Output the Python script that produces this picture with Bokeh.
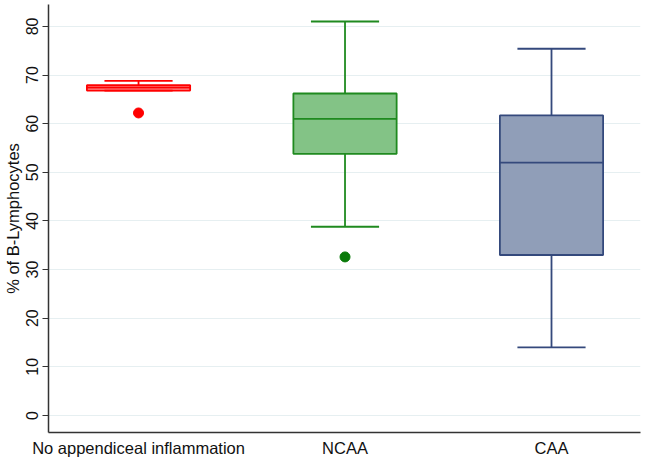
from bokeh.plotting import figure
from bokeh.models import Range1d, FixedTicker, ColumnDataSource
from bokeh.embed import file_html
from bokeh.resources import INLINE

# ---- data ----
categories = ["No appendiceal inflammation", "NCAA", "CAA"]
lower_whisker = [66.8, 38.8, 14.0]
q1 = [66.8, 53.8, 33.0]
median = [67.4, 61.0, 52.0]
q3 = [67.9, 66.2, 61.7]
upper_whisker = [68.8, 81.0, 75.4]
outlier_group = ["No appendiceal inflammation", "NCAA"]
outlier_value = [62.2, 32.6]
y_ticks = [0, 10, 20, 30, 40, 50, 60, 70, 80]
y_label = "% of B-Lymphocytes"

# ---- styles ----
line_colors = ["#ff0000", "#1f8a1f", "#34497c"]
fill_colors = ["#ff8c8c", "#83c386", "#909eb8"]
outlier_colors = {"No appendiceal inflammation": "#ff0000", "NCAA": "#0a7a0a", "CAA": "#34497c"}
BOX_W = 0.5
CAP_W = 0.33
FONT = "Liberation Sans"

xs = [i + 1 for i in range(len(categories))]

p = figure(width=645, height=462, output_backend="svg", toolbar_location=None,
           x_range=Range1d(0.564, 3.431), y_range=Range1d(-3.5, 84.5),
           min_border_left=0, min_border_right=5, min_border_top=4, min_border_bottom=30)
p.outline_line_color = None
p.background_fill_color = "white"

# grid
p.xgrid.grid_line_color = None
p.ygrid.grid_line_color = "#e6eff1"
p.ygrid.grid_line_width = 1.2

# y axis
p.yaxis.ticker = FixedTicker(ticks=y_ticks)
p.yaxis.minor_tick_line_color = None
p.yaxis.major_tick_out = 6
p.yaxis.major_tick_in = 0
p.yaxis.major_label_orientation = "vertical"
p.yaxis.major_label_text_font = FONT
p.yaxis.major_label_text_font_size = "16px"
p.yaxis.major_label_text_color = "#111111"
p.yaxis.major_label_standoff = 4
p.yaxis.axis_label = y_label
p.yaxis.axis_label_text_font = FONT
p.yaxis.axis_label_text_font_style = "normal"
p.yaxis.axis_label_text_font_size = "16.5px"
p.yaxis.axis_label_text_color = "#111111"
p.yaxis.axis_label_standoff = 2
p.yaxis.axis_line_color = "#333333"
p.yaxis.axis_line_width = 1.5
p.yaxis.major_tick_line_color = "#333333"

# x axis
p.xaxis.ticker = FixedTicker(ticks=xs)
p.xaxis.major_label_overrides = {x: c for x, c in zip(xs, categories)}
p.xaxis.major_tick_line_color = None
p.xaxis.minor_tick_line_color = None
p.xaxis.major_label_text_font = FONT
p.xaxis.major_label_text_font_size = "16.5px"
p.xaxis.major_label_text_color = "#111111"
p.xaxis.major_label_standoff = 0
p.xaxis.axis_line_color = "#333333"
p.xaxis.axis_line_width = 1.5

src = ColumnDataSource(dict(x=xs, lw=lower_whisker, q1=q1, med=median, q3=q3, uw=upper_whisker,
                            lc=line_colors, fc=fill_colors,
                            x0=[x - BOX_W / 2 for x in xs], x1=[x + BOX_W / 2 for x in xs],
                            c0=[x - CAP_W / 2 for x in xs], c1=[x + CAP_W / 2 for x in xs]))

# whisker stems
p.segment(x0="x", y0="q3", x1="x", y1="uw", line_color="lc", line_width=1.8, source=src)
p.segment(x0="x", y0="q1", x1="x", y1="lw", line_color="lc", line_width=1.8, source=src)
# boxes
p.vbar(x="x", width=BOX_W, top="q3", bottom="q1", fill_color="fc", line_color="lc",
       line_width=1.8, source=src)
# medians
p.segment(x0="x0", y0="med", x1="x1", y1="med", line_color="lc", line_width=1.8, source=src)
# caps
p.segment(x0="c0", y0="uw", x1="c1", y1="uw", line_color="lc", line_width=1.8, source=src)
p.segment(x0="c0", y0="lw", x1="c1", y1="lw", line_color="lc", line_width=1.8, source=src)

# outliers
ox = [xs[categories.index(g)] for g in outlier_group]
oc = [outlier_colors[g] for g in outlier_group]
p.scatter(x=ox, y=outlier_value, size=10, fill_color=oc, line_color=oc)

open("out.html", "w").write(file_html(p, INLINE))
